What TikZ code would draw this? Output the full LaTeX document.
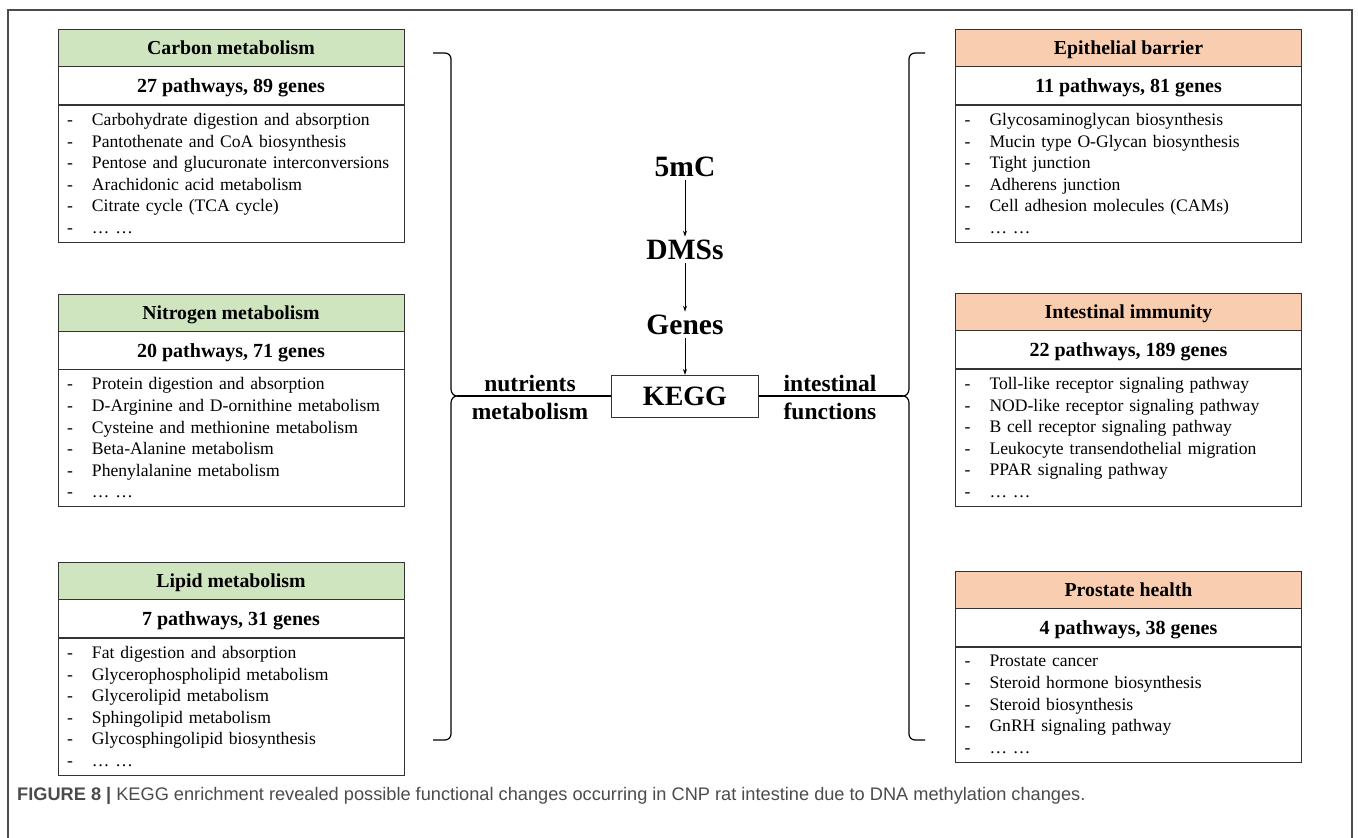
\documentclass[tikz,border=0pt]{standalone}
\usepackage{fontspec}
\setmainfont{Liberation Serif}
\newfontfamily\capfont{Liberation Sans}
\usetikzlibrary{positioning,arrows.meta}

\definecolor{hdrgreen}{RGB}{207,229,192}
\definecolor{hdrorange}{RGB}{249,206,176}
\definecolor{capgray}{RGB}{75,75,75}

\newcommand{\li}[1]{\makebox[25pt][l]{-}#1}

\begin{document}
\begin{tikzpicture}[x=1pt,y=-1pt,
  hdr/.style={draw=black!80,minimum width=346pt,minimum height=37pt,inner sep=0pt,
    text height=15pt,text depth=1pt,anchor=north,font=\fontsize{19.8}{21}\selectfont\bfseries},
  cnt/.style={draw=black!80,minimum width=346pt,minimum height=38pt,inner sep=0pt,
    text height=15pt,text depth=1pt,font=\fontsize{20}{21}\selectfont\bfseries},
  lst/.style={draw=black!80,text width=328pt,inner xsep=9pt,inner ysep=0pt,align=left,
    font=\fontsize{17.6}{21.6}\selectfont},
  big/.style={font=\fontsize{29.5}{30}\selectfont\bfseries},
  side/.style={align=center,font=\fontsize{23.5}{28}\selectfont\bfseries},
  brace/.style={line width=1.2pt},
  arr/.style={-{Stealth[length=6pt,width=4pt]},line width=0.8pt}]

  \useasboundingbox (0,0) rectangle (1358,838);
  \draw[gray!60!black,line width=1.3pt] (8,838) -- (8,10) -- (1352,10) -- (1352,838);

  % left side
  \node[hdr,fill=hdrgreen] (carbon) at (231,29) {Carbon metabolism};
  \node[cnt,below=0pt of carbon] (carbonn) {27 pathways, 89 genes};
  \node[lst,minimum height=137pt,below=0pt of carbonn] (carbonl) {\li{Carbohydrate digestion and absorption}\\
    \li{Pantothenate and CoA biosynthesis}\\
    \li{Pentose and glucuronate interconversions}\\
    \li{Arachidonic acid metabolism}\\
    \li{Citrate cycle (TCA cycle)}\\
    \li{\ldots\ \ldots}};

  \node[hdr,fill=hdrgreen] (nitro) at (231,293.5) {Nitrogen metabolism};
  \node[cnt,below=0pt of nitro] (nitron) {20 pathways, 71 genes};
  \node[lst,minimum height=137pt,below=0pt of nitron] (nitrol) {\li{Protein digestion and absorption}\\
    \li{D-Arginine and D-ornithine metabolism}\\
    \li{Cysteine and methionine metabolism}\\
    \li{Beta-Alanine metabolism}\\
    \li{Phenylalanine metabolism}\\
    \li{\ldots\ \ldots}};

  \node[hdr,fill=hdrgreen] (lipid) at (231,562) {Lipid metabolism};
  \node[cnt,below=0pt of lipid] (lipidn) {7 pathways, 31 genes};
  \node[lst,minimum height=137pt,below=0pt of lipidn] (lipidl) {\li{Fat digestion and absorption}\\
    \li{Glycerophospholipid metabolism}\\
    \li{Glycerolipid metabolism}\\
    \li{Sphingolipid metabolism}\\
    \li{Glycosphingolipid biosynthesis}\\
    \li{\ldots\ \ldots}};

  % right side
  \node[hdr,fill=hdrorange] (epi) at (1128.5,29) {Epithelial barrier};
  \node[cnt,below=0pt of epi] (epin) {11 pathways, 81 genes};
  \node[lst,minimum height=137pt,below=0pt of epin] (epil) {\li{Glycosaminoglycan biosynthesis}\\
    \li{Mucin type O-Glycan biosynthesis}\\
    \li{Tight junction}\\
    \li{Adherens junction}\\
    \li{Cell adhesion molecules (CAMs)}\\
    \li{\ldots\ \ldots}};

  \node[hdr,fill=hdrorange] (immu) at (1128.5,293) {Intestinal immunity};
  \node[cnt,below=0pt of immu] (immun) {22 pathways, 189 genes};
  \node[lst,minimum height=137pt,below=0pt of immun] (immul) {\li{Toll-like receptor signaling pathway}\\
    \li{NOD-like receptor signaling pathway}\\
    \li{B cell receptor signaling pathway}\\
    \li{Leukocyte transendothelial migration}\\
    \li{PPAR signaling pathway}\\
    \li{\ldots\ \ldots}};

  \node[hdr,fill=hdrorange] (pros) at (1128.5,571) {Prostate health};
  \node[cnt,below=0pt of pros] (prosn) {4 pathways, 38 genes};
  \node[lst,minimum height=115pt,below=0pt of prosn] (prosl) {\li{Prostate cancer}\\
    \li{Steroid hormone biosynthesis}\\
    \li{Steroid biosynthesis}\\
    \li{GnRH signaling pathway}\\
    \li{\ldots\ \ldots}};

  % middle
  \node[big] (mc) at (685,167) {5mC};
  \node[big] (dms) at (685,250) {DMSs};
  \node[big] (genes) at (685,325) {Genes};
  \node[draw=black!80,minimum width=147pt,minimum height=42pt,font=\fontsize{28}{30}\selectfont\bfseries] (kegg) at (685,396) {KEGG};
  \node[side] (nutri) at (530,397) {nutrients\\metabolism};
  \node[side] (intes) at (830,397) {intestinal\\functions};

  \draw[arr] (mc) -- (dms);
  \draw[arr] (dms) -- (genes);
  \draw[arr] (genes) -- (kegg);

  % braces
  \coordinate (lc) at (457,396);
  \coordinate (rc) at (903,396);
  \draw[brace] (433,53) -- (445,53) to[out=0,in=90] (451,59) -- (451,389)
    to[out=-90,in=180] (lc) to[out=180,in=90] (451,403) -- (451,734)
    to[out=-90,in=0] (445,740) -- (433,740);
  \draw[brace] (925,53) -- (915,53) to[out=180,in=90] (909,59) -- (909,389)
    to[out=-90,in=0] (rc) to[out=0,in=90] (909,403) -- (909,734)
    to[out=-90,in=180] (915,740) -- (925,740);
  \draw[brace] (lc) -- (kegg);
  \draw[brace] (kegg) -- (rc);

  \node[anchor=base west,inner sep=0pt,text=capgray,font=\capfont\fontsize{18.2}{20}\selectfont] (cap) at (17,800)
    {\textbf{FIGURE 8 |} KEGG enrichment revealed possible functional changes occurring in CNP rat intestine due to DNA methylation changes.};
\end{tikzpicture}
\end{document}
